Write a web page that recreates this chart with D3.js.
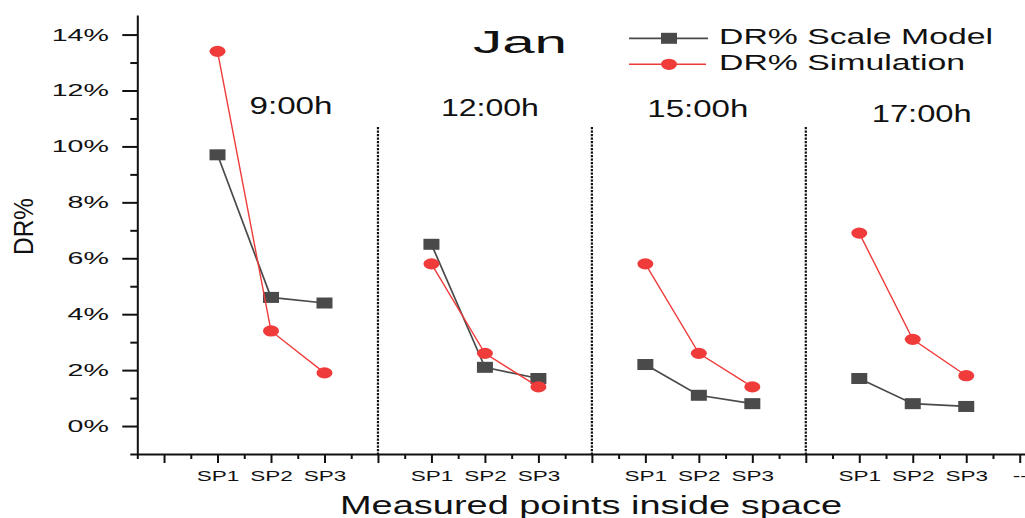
<!DOCTYPE html>
<html>
<head>
<meta charset="utf-8">
<script src="https://cdn.jsdelivr.net/npm/d3@7"></script>
<style>
  html, body { margin: 0; padding: 0; background: #fff; }
  svg { display: block; }
  text { font-family: "Liberation Sans", Arial, sans-serif; fill: #111; }
</style>
</head>
<body>
<svg id="chart" width="1025" height="518"></svg>
<script>
// ---- data ----
const groups = ["9:00h", "12:00h", "15:00h", "17:00h"];
const points = ["SP1", "SP2", "SP3"];
const seriesNames = ["DR% Scale Model", "DR% Simulation"];
// DR% per group (rows) and measuring point (columns)
const scaleModel = [
  [9.7, 4.6, 4.4],
  [6.5, 2.1, 1.7],
  [2.2, 1.1, 0.8],
  [1.7, 0.8, 0.7]
];
const simulation = [
  [13.4, 3.4, 1.9],
  [5.8, 2.6, 1.4],
  [5.8, 2.6, 1.4],
  [6.9, 3.1, 1.8]
];
const yTickValues = [0, 2, 4, 6, 8, 10, 12, 14];
const yMinorValues = [-1, 1, 3, 5, 7, 9, 11, 13];
const xTickLabels = ["", "SP1", "SP2", "SP3", "", "SP1", "SP2", "SP3", "", "SP1", "SP2", "SP3", "", "SP1", "SP2", "SP3", "--"];

// ---- layout ----
const W = 1025, H = 518;
const svg = d3.select("#chart");
const colGray = "#4a4a4a", colRed = "#f03b3b";

const x = d3.scaleLinear().domain([0.5, 17.5]).range([137.3, 137.3 + 17 * 53.48]);
const y = d3.scaleLinear().domain([-1, 14.7]).range([454, 15]);

// position on the axis of group g, point k (one slot per group for the divider)
const unitOf = (g, k) => 2 + 4 * g + k;

function stretch(sel, k) {
  sel.each(function () {
    const w = this.getComputedTextLength();
    d3.select(this).attr("textLength", w * k).attr("lengthAdjust", "spacingAndGlyphs");
  });
}
function fitTo(sel, width) {
  sel.attr("textLength", width).attr("lengthAdjust", "spacingAndGlyphs");
}

// ---- y axis ----
const yAxis = svg.append("g").attr("transform", `translate(${x(0.5)},0)`)
  .call(d3.axisLeft(y).tickValues(yTickValues).tickSize(15).tickSizeOuter(0)
    .tickPadding(13.5).tickFormat(d => d + "%"));
yAxis.select(".domain").attr("stroke", "#111").attr("stroke-width", 2);
yAxis.selectAll(".tick line").attr("stroke", "#111").attr("stroke-width", 2);
yAxis.selectAll(".tick text").attr("font-size", 17).attr("fill", "#111").call(stretch, 1.68);

const yMinor = svg.append("g").attr("transform", `translate(${x(0.5)},0)`)
  .call(d3.axisLeft(y).tickValues(yMinorValues).tickSize(7).tickFormat(""));
yMinor.select(".domain").remove();
yMinor.selectAll(".tick line").attr("stroke", "#111").attr("stroke-width", 2);

// ---- x axis ----
const majorUnits = d3.range(1, 18);
const minorUnits = d3.range(0.5, 17, 1);
const xAxis = svg.append("g").attr("transform", `translate(0,${y(-1)})`)
  .call(d3.axisBottom(x).tickValues(majorUnits).tickSize(9).tickSizeOuter(0)
    .tickPadding(7).tickFormat((d, i) => xTickLabels[i]));
xAxis.select(".domain").attr("stroke", "#111").attr("stroke-width", 2);
xAxis.selectAll(".tick line").attr("stroke", "#111").attr("stroke-width", 2);
xAxis.selectAll(".tick text").attr("font-size", 15).attr("fill", "#111").call(stretch, 1.5);

const xMinor = svg.append("g").attr("transform", `translate(0,${y(-1)})`)
  .call(d3.axisBottom(x).tickValues(minorUnits).tickSize(5).tickFormat(""));
xMinor.select(".domain").remove();
xMinor.selectAll(".tick line").attr("stroke", "#111").attr("stroke-width", 2);

// ---- dotted dividers between time groups ----
svg.append("g").selectAll("line").data([1, 2, 3]).join("line")
  .attr("x1", g => x(4 * g + 1)).attr("x2", g => x(4 * g + 1))
  .attr("y1", 127).attr("y2", y(-1))
  .attr("stroke", "#111").attr("stroke-width", 2.2).attr("stroke-dasharray", "2.2,1.3");

// ---- series ----
const line = d3.line().x(d => x(d.u)).y(d => y(d.v));
function seriesPoints(values) {
  return values.map((row, g) => row.map((v, k) => ({ u: unitOf(g, k), v })));
}
const grayData = seriesPoints(scaleModel);
const redData = seriesPoints(simulation);

const gGray = svg.append("g");
gGray.selectAll("path").data(grayData).join("path")
  .attr("d", line).attr("fill", "none").attr("stroke", colGray).attr("stroke-width", 1.7);
gGray.selectAll("rect").data(grayData.flat()).join("rect")
  .attr("x", d => x(d.u) - 8).attr("y", d => y(d.v) - 5.5)
  .attr("width", 16).attr("height", 11).attr("fill", colGray);

const gRed = svg.append("g");
gRed.selectAll("path").data(redData).join("path")
  .attr("d", line).attr("fill", "none").attr("stroke", colRed).attr("stroke-width", 1.4);
gRed.selectAll("ellipse").data(redData.flat()).join("ellipse")
  .attr("cx", d => x(d.u)).attr("cy", d => y(d.v))
  .attr("rx", 8).attr("ry", 5.6).attr("fill", colRed);

// ---- group labels ----
const groupLabelShift = [20, 5, -1, 9];
const groupLabelBase = [114, 116, 116.7, 121.7];
const groupLabelWidth = [83, 98, 101, 100];
groups.forEach((name, g) => {
  svg.append("text")
    .attr("x", x(unitOf(g, 1)) + groupLabelShift[g]).attr("y", groupLabelBase[g])
    .attr("text-anchor", "middle").attr("font-size", 23).text(name)
    .call(fitTo, groupLabelWidth[g]);
});

// ---- title ----
svg.append("text").attr("x", 473).attr("y", 53.3).attr("font-size", 31).text("Jan")
  .call(fitTo, 94);

// ---- legend ----
const legend = svg.append("g");
const legY = [38.3, 64.3];
legend.append("line").attr("x1", 629).attr("x2", 708).attr("y1", legY[0]).attr("y2", legY[0])
  .attr("stroke", colGray).attr("stroke-width", 1.7);
legend.append("rect").attr("x", 661).attr("y", legY[0] - 5.5).attr("width", 16).attr("height", 11)
  .attr("fill", colGray);
legend.append("line").attr("x1", 629).attr("x2", 706).attr("y1", legY[1]).attr("y2", legY[1])
  .attr("stroke", colRed).attr("stroke-width", 1.4);
legend.append("ellipse").attr("cx", 669).attr("cy", legY[1]).attr("rx", 8).attr("ry", 5.6)
  .attr("fill", colRed);
legend.append("text").attr("x", 719).attr("y", 44.3).attr("font-size", 22).text(seriesNames[0])
  .call(fitTo, 274);
legend.append("text").attr("x", 719).attr("y", 69.5).attr("font-size", 22).text(seriesNames[1])
  .call(fitTo, 246);

// ---- axis titles ----
svg.append("text").attr("x", 340).attr("y", 514).attr("font-size", 25)
  .text("Measured points inside space").call(fitTo, 502);

svg.append("text")
  .attr("transform", "translate(33,226.5) rotate(-90) scale(1,1.17)")
  .attr("text-anchor", "middle").attr("font-size", 24).text("DR%")
  .call(fitTo, 57);
</script>
</body>
</html>
